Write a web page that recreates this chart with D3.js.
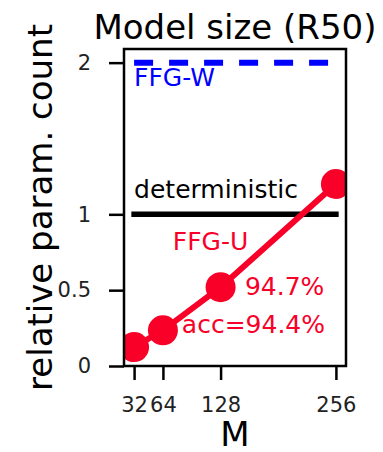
<!DOCTYPE html>
<html>
<head>
<meta charset="utf-8">
<script src="https://cdn.jsdelivr.net/npm/d3@7"></script>
<style>
  body { margin: 0; background: #fff; }
  svg { display: block; font-family: "DejaVu Sans", sans-serif; }
</style>
</head>
<body>
<svg id="chart"></svg>
<script>
// data
const mValues = [32, 64, 128, 256];
const ffgU = [0.125, 0.235, 0.52, 1.2];
const deterministicLevel = [1, 1];
const ffgWLevel = [2, 2];
const xTicks = [32, 64, 128, 256];
const yTicks = [0, 0.5, 1, 2];
const yTickLabels = ["0", "0.5", "1", "2"];
const annotations = [
  { text: "FFG-W", m: 32, v: 2, dy: 23, color: "#0000ff" },
  { text: "deterministic", m: 32, v: 1, dy: -16, color: "#000" },
  { text: "FFG-U", m: 75, v: 0.765, dy: 0, color: "#f80028" },
  { text: "94.7%", m: 155, v: 0.468, dy: 0, color: "#f80028" },
  { text: "acc=94.4%", m: 85, v: 0.218, dy: 0, color: "#f80028" }
];

// chart dimensions
const width = 383;
const height = 452;
const marginLeft = 124;
const marginRight = 37;
const marginTop = 49;
const marginBottom = 86;
const red = "#f80028";

const x = d3.scaleLinear()
    .domain([20.8, 267.2])
    .range([marginLeft, width - marginRight]);

const y = d3.scaleLinear()
    .domain([0, 2.09])
    .range([height - marginBottom, marginTop]);

const svg = d3.select("#chart")
    .attr("width", width)
    .attr("height", height);

svg.append("defs").append("clipPath")
    .attr("id", "plot-clip")
  .append("rect")
    .attr("x", marginLeft)
    .attr("y", marginTop)
    .attr("width", width - marginLeft - marginRight)
    .attr("height", height - marginTop - marginBottom);

// x-axis
const xAxis = svg.append("g")
    .attr("transform", `translate(0,${height - marginBottom})`)
    .call(d3.axisBottom(x).tickValues(xTicks).tickSize(14).tickSizeOuter(0).tickPadding(17));

// y-axis
const yAxis = svg.append("g")
    .attr("transform", `translate(${marginLeft},0)`)
    .call(d3.axisLeft(y).tickValues(yTicks).tickFormat((d, i) => yTickLabels[i])
      .tickSize(15).tickSizeOuter(0).tickPadding(18));

[xAxis, yAxis].forEach(g => {
  g.select(".domain").remove();
  g.selectAll(".tick line").attr("stroke", "#000").attr("stroke-width", 2.5);
  g.selectAll(".tick text")
    .attr("fill", "#222")
    .style("font-size", "21px")
    .style("font-family", "DejaVu Sans");
});

const plot = svg.append("g").attr("clip-path", "url(#plot-clip)");

// deterministic baseline
plot.append("line")
    .attr("x1", x(mValues[0])).attr("x2", x(mValues[mValues.length - 1]))
    .attr("y1", y(deterministicLevel[0])).attr("y2", y(deterministicLevel[1]))
    .attr("stroke", "#000")
    .attr("stroke-width", 5.5)
    .attr("stroke-linecap", "square");

// FFG-W dashed
plot.append("line")
    .attr("x1", x(mValues[0])).attr("x2", x(mValues[mValues.length - 1]))
    .attr("y1", y(ffgWLevel[0])).attr("y2", y(ffgWLevel[1]))
    .attr("stroke", "#0000ff")
    .attr("stroke-width", 6)
    .attr("stroke-dasharray", "19,16");

// FFG-U line + markers
const line = d3.line()
    .x((d, i) => x(mValues[i]))
    .y(d => y(d));

plot.append("path")
    .datum(ffgU)
    .attr("d", line)
    .attr("fill", "none")
    .attr("stroke", red)
    .attr("stroke-width", 6);

plot.selectAll("circle")
    .data(ffgU)
    .join("circle")
    .attr("cx", (d, i) => x(mValues[i]))
    .attr("cy", d => y(d))
    .attr("r", 15)
    .attr("fill", red);

// annotations
svg.append("g")
    .selectAll("text")
    .data(annotations)
    .join("text")
    .attr("x", d => x(d.m))
    .attr("y", d => y(d.v) + d.dy)
    .attr("fill", d => d.color)
    .style("font-size", "25px")
    .text(d => d.text);

// frame
svg.append("rect")
    .attr("x", marginLeft)
    .attr("y", marginTop)
    .attr("width", width - marginLeft - marginRight)
    .attr("height", height - marginTop - marginBottom)
    .attr("fill", "none")
    .attr("stroke", "#000")
    .attr("stroke-width", 2.5);

// title and axis labels
svg.append("text")
    .attr("x", (marginLeft + width - marginRight) / 2)
    .attr("y", 39)
    .attr("text-anchor", "middle")
    .style("font-size", "34px")
    .text("Model size (R50)");

svg.append("text")
    .attr("x", (marginLeft + width - marginRight) / 2)
    .attr("y", 446)
    .attr("text-anchor", "middle")
    .style("font-size", "34px")
    .text("M");

svg.append("text")
    .attr("transform", `translate(52,${(marginTop + height - marginBottom) / 2}) rotate(-90)`)
    .attr("text-anchor", "middle")
    .style("font-size", "34px")
    .text("relative param. count");
</script>
</body>
</html>
